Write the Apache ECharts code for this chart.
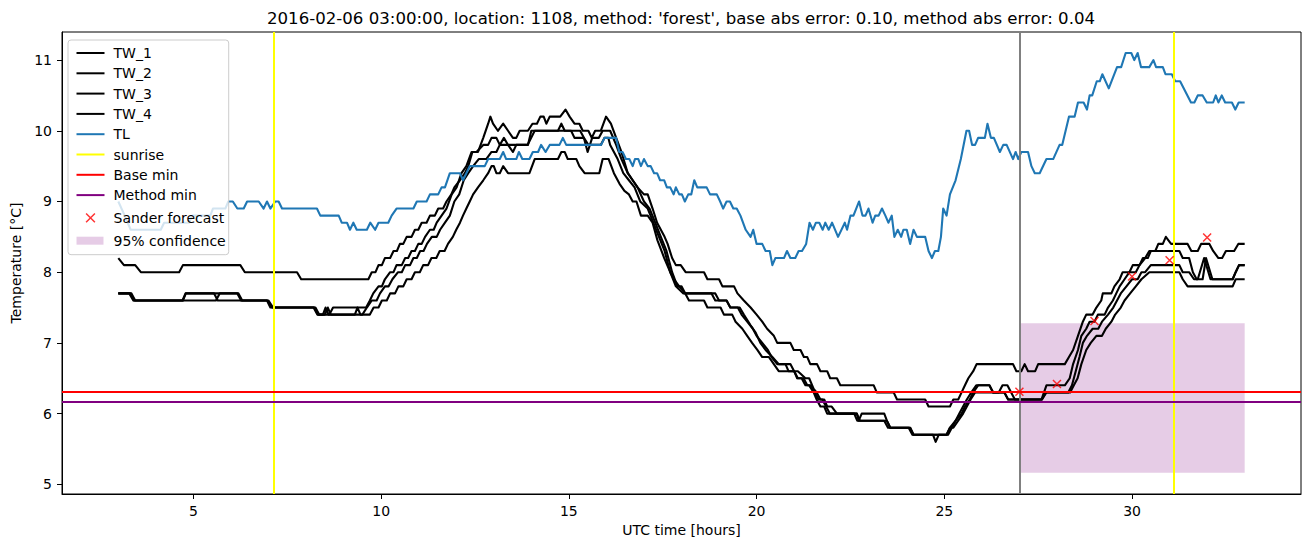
<!DOCTYPE html>
<html><head><meta charset="utf-8">
<script src="https://cdn.jsdelivr.net/npm/echarts@6/dist/echarts.min.js"></script>
<style>html,body{margin:0;padding:0;background:#fff}#c{width:1311px;height:547px}</style>
</head><body><div id="c"></div>
<script>
// ---------- data (hours UTC, temperature °C) ----------
const xTicks = [5, 10, 15, 20, 25, 30];
const yTicks = [5, 6, 7, 8, 9, 10, 11];

const tw1 = [[3.0,8.2],[3.15,8.1],[3.45,8.1],[3.6,8.0],[4.62,8.0],[4.72,8.1],[6.25,8.1],[6.37,8.0],[7.76,8.0],[7.87,7.9],[9.66,7.9],[9.75,8.0],[9.85,8.0],[9.93,8.1],[10.02,8.1],[10.1,8.2],[10.24,8.2],[10.33,8.3],[10.42,8.3],[10.5,8.4],[10.59,8.4],[10.68,8.5],[10.81,8.5],[10.9,8.6],[10.99,8.6],[11.08,8.7],[11.21,8.7],[11.3,8.8],[11.43,8.8],[11.52,8.9],[11.65,8.9],[11.74,9.0],[11.87,9.1],[11.95,9.2],[12.1,9.3],[12.23,9.4],[12.32,9.5],[12.43,9.7],[12.58,9.7],[12.72,9.9],[12.85,10.1],[12.91,10.2],[12.98,10.1],[13.11,10.0],[13.25,10.1],[13.38,10.0],[13.51,9.9],[13.6,9.9],[13.69,10.0],[13.91,10.0],[14.03,10.1],[14.15,10.1],[14.24,10.2],[14.33,10.2],[14.4,10.1],[14.49,10.2],[14.77,10.2],[14.91,10.3],[15.02,10.2],[15.15,10.1],[15.28,10.1],[15.37,10.0],[15.52,10.0],[15.61,9.9],[15.7,10.0],[15.85,10.0],[15.99,10.2],[16.12,10.1],[16.26,9.9],[16.4,9.7],[16.57,9.4],[16.7,9.3],[16.83,9.2],[17.0,9.1],[17.1,9.1],[17.23,8.9],[17.35,8.7],[17.45,8.6],[17.55,8.5],[17.63,8.4],[17.75,8.2],[17.85,8.1],[17.98,8.1],[18.11,8.0],[18.6,8.0],[18.69,7.9],[19.0,7.9],[19.09,7.8],[19.4,7.8],[19.49,7.7],[19.66,7.6],[19.84,7.5],[20.0,7.4],[20.15,7.3],[20.28,7.2],[20.46,7.1],[20.55,7.0],[20.9,7.0],[20.99,6.9],[21.17,6.9],[21.26,6.8],[21.35,6.8],[21.43,6.7],[21.61,6.7],[21.7,6.6],[21.88,6.6],[21.96,6.5],[22.14,6.5],[22.23,6.4],[23.12,6.4],[23.2,6.3],[23.65,6.3],[23.74,6.2],[24.49,6.2],[24.58,6.1],[25.15,6.1],[25.24,6.2],[25.37,6.2],[25.46,6.3],[25.55,6.4],[25.64,6.5],[25.77,6.6],[25.86,6.7],[26.83,6.7],[26.92,6.6],[27.05,6.6],[27.14,6.7],[27.23,6.6],[27.42,6.6],[27.5,6.7],[28.21,6.7],[28.32,6.8],[28.43,6.9],[28.56,7.1],[28.69,7.3],[28.78,7.4],[28.95,7.4],[29.05,7.5],[29.18,7.6],[29.22,7.7],[29.45,7.7],[29.53,7.8],[29.67,7.9],[29.75,8.0],[29.93,8.0],[30.02,8.1],[30.2,8.1],[30.29,8.2],[30.42,8.2],[30.5,8.3],[30.62,8.3],[30.7,8.4],[30.82,8.4],[30.9,8.5],[31.04,8.4],[31.48,8.4],[31.58,8.3],[31.75,8.3],[31.84,8.4],[32.06,8.4],[32.16,8.3],[32.3,8.2],[32.4,8.2],[32.5,8.3],[32.72,8.3],[32.83,8.4],[33.0,8.4]];

const tw2 = [[3.0,7.7],[3.29,7.7],[3.4,7.6],[4.71,7.6],[4.79,7.7],[6.17,7.7],[6.27,7.6],[6.96,7.6],[7.05,7.5],[8.22,7.5],[8.32,7.4],[8.62,7.4],[8.72,7.5],[9.6,7.5],[9.7,7.6],[9.79,7.7],[9.93,7.8],[10.02,7.8],[10.1,7.9],[10.24,8.0],[10.33,8.0],[10.41,8.1],[10.55,8.1],[10.64,8.2],[10.72,8.2],[10.81,8.3],[10.9,8.3],[10.99,8.4],[11.08,8.4],[11.17,8.5],[11.3,8.6],[11.4,8.6],[11.48,8.7],[11.61,8.8],[11.74,8.9],[11.88,9.1],[12.01,9.2],[12.14,9.4],[12.27,9.5],[12.41,9.7],[12.54,9.7],[12.72,9.8],[12.85,9.8],[12.94,9.9],[13.07,9.9],[13.16,9.8],[13.27,9.9],[13.38,9.8],[13.51,9.7],[13.6,9.8],[13.91,9.8],[14.0,10.0],[14.71,10.0],[14.8,10.1],[14.89,10.0],[15.06,10.0],[15.15,9.9],[15.4,9.9],[15.5,9.7],[15.62,9.9],[15.8,9.9],[15.9,10.0],[16.1,10.0],[16.26,9.8],[16.4,9.6],[16.57,9.4],[16.7,9.3],[16.83,9.2],[17.0,9.0],[17.15,8.9],[17.3,8.7],[17.45,8.5],[17.6,8.3],[17.75,8.0],[17.89,7.8],[18.0,7.8],[18.1,7.7],[18.9,7.7],[19.0,7.6],[19.2,7.6],[19.3,7.5],[19.55,7.5],[19.66,7.4],[19.84,7.25],[19.97,7.15],[20.1,7.0],[20.24,6.9],[20.42,6.8],[20.59,6.7],[20.9,6.7],[21.0,6.6],[21.1,6.6],[21.3,6.5],[21.4,6.5],[21.52,6.35],[21.6,6.3],[21.7,6.2],[21.8,6.2],[21.88,6.1],[22.0,6.1],[22.14,6.0],[22.67,6.0],[22.72,5.9],[22.8,6.0],[23.4,6.0],[23.47,5.9],[23.56,5.8],[24.09,5.8],[24.18,5.7],[25.06,5.7],[25.15,5.8],[25.3,5.9],[25.46,6.0],[25.55,6.1],[25.68,6.2],[25.77,6.3],[25.9,6.4],[26.2,6.4],[26.3,6.3],[26.45,6.3],[26.55,6.4],[26.68,6.4],[26.78,6.3],[26.88,6.2],[27.59,6.2],[27.72,6.4],[28.21,6.4],[28.34,6.5],[28.43,6.7],[28.56,6.9],[28.65,7.1],[28.78,7.2],[28.87,7.3],[29.0,7.3],[29.09,7.4],[29.27,7.4],[29.36,7.5],[29.49,7.6],[29.58,7.7],[29.67,7.8],[29.8,7.9],[29.93,8.0],[30.1,8.0],[30.2,8.1],[30.35,8.2],[30.46,8.3],[31.26,8.3],[31.35,8.2],[31.52,8.2],[31.62,8.0],[31.72,7.9],[31.88,7.9],[31.97,8.2],[32.14,7.9],[32.68,7.9],[32.76,8.0],[32.85,8.1],[33.0,8.1]];

const tw3 = [[3.0,7.7],[3.32,7.7],[3.42,7.6],[4.72,7.6],[4.8,7.7],[5.55,7.7],[5.65,7.6],[6.96,7.6],[7.1,7.5],[8.2,7.5],[8.3,7.4],[8.45,7.4],[8.52,7.5],[8.6,7.4],[9.5,7.4],[9.62,7.5],[9.75,7.6],[9.88,7.6],[9.97,7.7],[10.1,7.8],[10.2,7.8],[10.3,7.9],[10.45,8.0],[10.55,8.0],[10.64,8.1],[10.77,8.1],[10.86,8.2],[10.95,8.2],[11.04,8.3],[11.13,8.3],[11.22,8.4],[11.35,8.5],[11.48,8.5],[11.57,8.6],[11.7,8.7],[11.83,8.8],[11.95,9.0],[12.08,9.1],[12.2,9.3],[12.32,9.4],[12.45,9.5],[12.6,9.6],[12.8,9.6],[12.94,9.7],[13.07,9.7],[13.16,9.8],[13.9,9.8],[14.09,10.0],[15.3,10.0],[15.4,9.9],[15.52,9.8],[15.85,9.8],[15.95,9.9],[16.05,9.9],[16.1,9.8],[16.3,9.6],[16.45,9.4],[16.6,9.3],[16.75,9.2],[16.9,9.0],[17.1,8.9],[17.25,8.7],[17.4,8.5],[17.55,8.3],[17.7,8.0],[17.85,7.8],[18.05,7.7],[18.8,7.7],[18.9,7.6],[19.2,7.6],[19.3,7.5],[19.5,7.5],[19.6,7.4],[19.75,7.3],[19.9,7.2],[20.0,7.1],[20.15,7.0],[20.3,6.9],[20.4,6.8],[20.55,6.7],[20.77,6.7],[20.85,6.6],[21.0,6.6],[21.1,6.5],[21.25,6.5],[21.35,6.4],[21.45,6.4],[21.55,6.3],[21.65,6.2],[21.75,6.2],[21.85,6.1],[21.95,6.0],[22.67,6.0],[22.75,5.9],[23.47,5.9],[23.56,5.8],[24.09,5.8],[24.18,5.7],[25.06,5.7],[25.15,5.8],[25.24,5.8],[25.37,5.9],[25.5,6.0],[25.6,6.1],[25.7,6.2],[25.82,6.3],[26.6,6.3],[26.7,6.2],[27.6,6.2],[27.7,6.3],[28.3,6.3],[28.4,6.4],[28.5,6.6],[28.6,6.8],[28.69,7.0],[28.8,7.1],[28.95,7.2],[29.1,7.2],[29.2,7.3],[29.36,7.4],[29.5,7.5],[29.6,7.6],[29.7,7.7],[29.85,7.8],[30.0,7.9],[30.15,7.9],[30.25,8.0],[30.35,8.0],[30.5,8.1],[31.26,8.1],[31.35,8.0],[31.52,8.0],[31.65,7.9],[31.75,7.9],[31.92,8.2],[32.09,7.9],[32.68,7.9],[32.76,8.0],[32.85,8.1],[33.0,8.1]];

const tw4 = [[3.0,7.7],[3.35,7.7],[3.45,7.6],[5.6,7.6],[5.7,7.7],[6.2,7.7],[6.3,7.6],[7.0,7.6],[7.12,7.5],[8.25,7.5],[8.35,7.4],[8.5,7.4],[8.58,7.5],[8.66,7.4],[9.3,7.4],[9.37,7.5],[9.45,7.4],[9.7,7.4],[9.8,7.5],[9.93,7.5],[10.02,7.6],[10.15,7.6],[10.24,7.7],[10.37,7.7],[10.46,7.8],[10.59,7.8],[10.68,7.9],[10.81,7.9],[10.9,8.0],[11.03,8.0],[11.12,8.1],[11.25,8.1],[11.34,8.2],[11.47,8.2],[11.56,8.3],[11.69,8.3],[11.78,8.4],[11.91,8.5],[12.0,8.6],[12.1,8.7],[12.18,8.8],[12.27,8.9],[12.36,9.0],[12.45,9.1],[12.58,9.2],[12.72,9.3],[12.85,9.4],[12.94,9.5],[13.0,9.5],[13.07,9.4],[13.16,9.4],[13.25,9.5],[13.38,9.4],[13.95,9.4],[14.09,9.6],[14.71,9.6],[14.8,9.7],[14.89,9.7],[14.97,9.6],[15.2,9.6],[15.28,9.5],[15.42,9.4],[15.81,9.4],[15.9,9.6],[16.06,9.6],[16.2,9.4],[16.35,9.25],[16.48,9.15],[16.6,9.1],[16.7,9.0],[16.8,9.0],[16.92,8.8],[17.1,8.8],[17.23,8.7],[17.36,8.45],[17.54,8.2],[17.7,8.0],[17.8,7.9],[17.94,7.8],[18.1,7.7],[18.2,7.6],[18.6,7.6],[18.69,7.5],[19.04,7.5],[19.13,7.4],[19.35,7.4],[19.44,7.3],[19.62,7.2],[19.75,7.1],[19.88,7.0],[20.02,6.9],[20.15,6.8],[20.33,6.8],[20.46,6.7],[20.59,6.6],[21.0,6.6],[21.08,6.5],[21.2,6.5],[21.3,6.4],[21.4,6.4],[21.52,6.3],[21.6,6.2],[21.7,6.1],[21.8,6.1],[21.88,6.0],[22.6,6.0],[22.68,5.9],[23.4,5.9],[23.5,5.8],[24.05,5.8],[24.15,5.7],[24.7,5.7],[24.77,5.6],[24.85,5.7],[25.1,5.7],[25.2,5.8],[25.3,5.9],[25.4,6.0],[25.5,6.1],[25.6,6.2],[25.72,6.3],[25.85,6.4],[26.2,6.4],[26.3,6.3],[26.6,6.3],[26.7,6.2],[27.6,6.2],[27.72,6.3],[28.35,6.3],[28.45,6.4],[28.55,6.5],[28.65,6.7],[28.78,6.9],[28.9,7.0],[29.05,7.1],[29.2,7.1],[29.3,7.2],[29.45,7.3],[29.55,7.4],[29.7,7.5],[29.8,7.6],[29.95,7.7],[30.1,7.8],[30.25,7.9],[30.46,8.0],[31.26,8.0],[31.35,7.9],[31.48,7.8],[32.68,7.8],[32.76,7.9],[33.0,7.9]];

const tl = [[3.0,9.0],[3.17,8.8],[3.33,8.6],[4.13,8.6],[4.22,8.7],[4.88,8.7],[4.97,8.8],[5.45,8.8],[5.52,8.9],[5.85,8.9],[5.93,9.0],[6.05,9.0],[6.17,8.9],[6.34,8.9],[6.43,9.0],[6.74,9.0],[6.87,8.9],[6.96,9.0],[7.05,8.9],[7.18,9.0],[7.27,9.0],[7.36,8.9],[8.29,8.9],[8.38,8.8],[8.87,8.8],[8.95,8.7],[9.09,8.7],[9.17,8.6],[9.26,8.7],[9.35,8.6],[9.62,8.6],[9.71,8.7],[9.84,8.6],[9.93,8.7],[10.19,8.7],[10.28,8.8],[10.41,8.9],[10.86,8.9],[10.95,9.0],[11.21,9.0],[11.3,9.1],[11.52,9.1],[11.61,9.2],[11.7,9.2],[11.83,9.4],[12.1,9.4],[12.18,9.3],[12.27,9.4],[12.36,9.5],[12.76,9.5],[12.85,9.6],[13.16,9.6],[13.25,9.7],[13.33,9.6],[13.6,9.6],[13.67,9.7],[13.76,9.6],[13.95,9.6],[14.04,9.7],[14.18,9.7],[14.26,9.8],[14.38,9.7],[14.49,9.8],[14.75,9.8],[14.84,9.9],[14.93,9.8],[15.86,9.8],[15.95,9.9],[16.26,9.9],[16.34,9.7],[16.43,9.7],[16.52,9.6],[16.61,9.6],[16.7,9.5],[16.76,9.6],[16.85,9.6],[16.92,9.5],[17.0,9.6],[17.1,9.5],[17.18,9.5],[17.27,9.4],[17.35,9.4],[17.43,9.3],[17.54,9.3],[17.61,9.2],[17.7,9.2],[17.79,9.1],[17.85,9.2],[17.94,9.1],[18.01,9.1],[18.09,9.0],[18.18,9.1],[18.26,9.1],[18.34,9.3],[18.42,9.2],[18.67,9.2],[18.76,9.1],[18.94,9.1],[19.03,9.0],[19.11,8.9],[19.2,9.0],[19.29,9.0],[19.38,8.9],[19.47,8.9],[19.57,8.8],[19.71,8.6],[19.84,8.5],[19.91,8.6],[20.0,8.4],[20.15,8.4],[20.24,8.3],[20.35,8.3],[20.42,8.1],[20.5,8.2],[20.73,8.2],[20.81,8.3],[20.9,8.2],[21.03,8.2],[21.12,8.3],[21.21,8.3],[21.32,8.4],[21.41,8.7],[21.5,8.6],[21.58,8.7],[21.67,8.7],[21.76,8.6],[21.83,8.7],[21.92,8.6],[22.01,8.7],[22.17,8.5],[22.35,8.7],[22.41,8.6],[22.5,8.8],[22.58,8.8],[22.73,9.0],[22.82,8.8],[22.9,8.8],[22.98,8.9],[23.09,8.7],[23.16,8.8],[23.25,8.8],[23.34,8.9],[23.43,8.8],[23.51,8.7],[23.6,8.8],[23.67,8.5],[23.76,8.6],[23.85,8.5],[23.91,8.6],[24.0,8.6],[24.09,8.4],[24.18,8.6],[24.27,8.5],[24.49,8.5],[24.58,8.3],[24.67,8.2],[24.75,8.3],[24.84,8.3],[24.91,8.5],[24.97,8.9],[25.06,8.8],[25.15,9.1],[25.3,9.3],[25.44,9.6],[25.59,10.0],[25.66,10.0],[25.74,9.8],[25.82,9.8],[25.9,9.9],[26.08,9.9],[26.15,10.1],[26.24,9.9],[26.32,9.9],[26.48,9.7],[26.57,9.8],[26.66,9.8],[26.83,9.6],[26.9,9.7],[26.97,9.6],[27.05,9.7],[27.23,9.7],[27.32,9.5],[27.41,9.4],[27.54,9.4],[27.72,9.6],[27.9,9.6],[28.07,9.8],[28.14,9.8],[28.32,10.2],[28.47,10.2],[28.56,10.4],[28.71,10.4],[28.8,10.3],[28.87,10.5],[28.94,10.5],[29.06,10.7],[29.14,10.7],[29.21,10.8],[29.38,10.6],[29.6,10.9],[29.71,10.9],[29.83,11.1],[29.98,11.1],[30.06,11.0],[30.15,11.1],[30.24,10.9],[30.46,10.9],[30.57,11.0],[30.64,10.9],[30.82,10.9],[30.89,10.8],[31.06,10.8],[31.15,10.7],[31.28,10.7],[31.57,10.4],[31.66,10.4],[31.75,10.5],[31.88,10.5],[31.99,10.4],[32.16,10.4],[32.23,10.5],[32.3,10.4],[32.39,10.5],[32.48,10.4],[32.66,10.4],[32.75,10.3],[32.84,10.4],[33.0,10.4]];

const sunriseHours = [7.13, 31.12];
const forecastStart = [27.0];
const baseMin = [6.31];
const methodMin = [6.17];
const forecastHours = [27, 28, 29, 30, 31, 32];
const forecastValues = [6.31, 6.42, 7.31, 7.94, 8.17, 8.49];
const confHours = [27, 33];
const confBounds = [5.164, 7.277];

// ---------- chart ----------
const FONT = 'DejaVu Sans';
const lineIcon = 'path://M0,0M28,14M0,6L28,6L28,8L0,8Z';
const patchIcon = 'path://M0,0M28,14M0,3L27,3L27,11L0,11Z';
const xIcon = 'path://M0,0M28,14M9.6,2.6L18.4,11.4M18.4,2.6L9.6,11.4';
const xSymbol = 'path://M0,0L10,10M10,0L0,10';

function lineSeries(name, data, color) {
  return {type: 'line', name, data, showSymbol: false, symbol: 'none', animation: false,
    lineStyle: {color, width: 2.1, join: 'round'}, itemStyle: {color}, emphasis: {disabled: true}, z: 2};
}
function markLineSeries(name, color, lines, axis) {
  return {type: 'line', name, data: [], itemStyle: {color}, lineStyle: {color},
    markLine: {silent: true, symbol: ['none', 'none'], animation: false, label: {show: false},
      emphasis: {disabled: true},
      lineStyle: {color, width: 2, type: 'solid', opacity: 1},
      data: lines.map(v => ({[axis]: v}))}};
}

const chart = echarts.init(document.getElementById('c'), null, {renderer: 'svg'});
chart.setOption({
  animation: false,
  backgroundColor: '#fff',
  textStyle: {fontFamily: FONT},
  grid: {left: 62, right: 10, top: 32, bottom: 53, show: true, borderColor: '#000', borderWidth: 1, backgroundColor: 'transparent'},
  graphic: [{type: 'text', x: 681, y: 18, silent: true, style: {
    text: "2016-02-06 03:00:00, location: 1108, method: 'forest', base abs error: 0.10, method abs error: 0.04",
    fontFamily: FONT, fontSize: 16.6, fill: '#000', align: 'center', verticalAlign: 'middle'}}],
  legend: {
    orient: 'vertical', left: 68, top: 40, itemWidth: 28, itemHeight: 14, itemGap: 6.3,
    padding: [6, 3, 7, 6], backgroundColor: 'rgba(255,255,255,0.8)', borderColor: '#cccccc',
    borderWidth: 1, borderRadius: 3, selectedMode: false,
    itemStyle: {borderWidth: 0},
    textStyle: {fontFamily: FONT, fontSize: 14, color: '#000', padding: [0, 0, 0, 4]},
    data: [
      {name: 'TW_1', icon: lineIcon}, {name: 'TW_2', icon: lineIcon}, {name: 'TW_3', icon: lineIcon},
      {name: 'TW_4', icon: lineIcon}, {name: 'TL', icon: lineIcon}, {name: 'sunrise', icon: lineIcon},
      {name: 'Base min', icon: lineIcon}, {name: 'Method min', icon: lineIcon},
      {name: 'Sander forecast', icon: xIcon, itemStyle: {borderWidth: 1.5, borderColor: '#ff0000', color: 'none'}},
      {name: '95% confidence', icon: patchIcon}
    ]
  },
  xAxis: {
    type: 'value', min: 1.5, max: 34.5,
    splitLine: {show: false},
    axisLine: {show: true, onZero: false, lineStyle: {color: '#000', width: 1}},
    axisTick: {show: true, length: 5, lineStyle: {color: '#000', width: 1}, customValues: xTicks},
    axisLabel: {customValues: xTicks, fontFamily: FONT, fontSize: 14, color: '#000', margin: 10},
    name: 'UTC time [hours]', nameLocation: 'middle', nameGap: 29,
    nameTextStyle: {fontFamily: FONT, fontSize: 14, color: '#000'}
  },
  yAxis: {
    type: 'value', min: 4.863, max: 11.397,
    splitLine: {show: false},
    axisLine: {show: true, onZero: false, lineStyle: {color: '#000', width: 1}},
    axisTick: {show: true, length: 5, lineStyle: {color: '#000', width: 1}, customValues: yTicks},
    axisLabel: {customValues: yTicks, fontFamily: FONT, fontSize: 14, color: '#000', margin: 10},
    name: 'Temperature [°C]', nameLocation: 'middle', nameGap: 38, nameRotate: 90,
    nameTextStyle: {fontFamily: FONT, fontSize: 14, color: '#000'}
  },
  series: [
    {type: 'line', name: '95% confidence', data: [], itemStyle: {color: 'rgba(128,0,128,0.2)'},
      markArea: {silent: true, animation: false, itemStyle: {color: 'rgba(128,0,128,0.2)'},
        emphasis: {disabled: true},
        data: [[{xAxis: confHours[0], yAxis: confBounds[0]}, {xAxis: confHours[1], yAxis: confBounds[1]}]]}},
    lineSeries('TW_1', tw1, '#000000'),
    lineSeries('TW_2', tw2, '#000000'),
    lineSeries('TW_3', tw3, '#000000'),
    lineSeries('TW_4', tw4, '#000000'),
    lineSeries('TL', tl, '#1f77b4'),
    markLineSeries('sunrise', '#ffff00', sunriseHours, 'xAxis'),
    markLineSeries('forecast start', '#808080', forecastStart, 'xAxis'),
    markLineSeries('Base min', '#ff0000', baseMin, 'yAxis'),
    markLineSeries('Method min', '#800080', methodMin, 'yAxis'),
    {type: 'scatter', name: 'Sander forecast', z: 6, animation: false,
      data: forecastHours.map((h, i) => [h, forecastValues[i]]),
      symbol: xSymbol, symbolSize: 8,
      itemStyle: {color: '#ff0000', borderColor: '#ff0000', borderWidth: 1.5},
      emphasis: {disabled: true}}
  ]
});
</script>
</body></html>
